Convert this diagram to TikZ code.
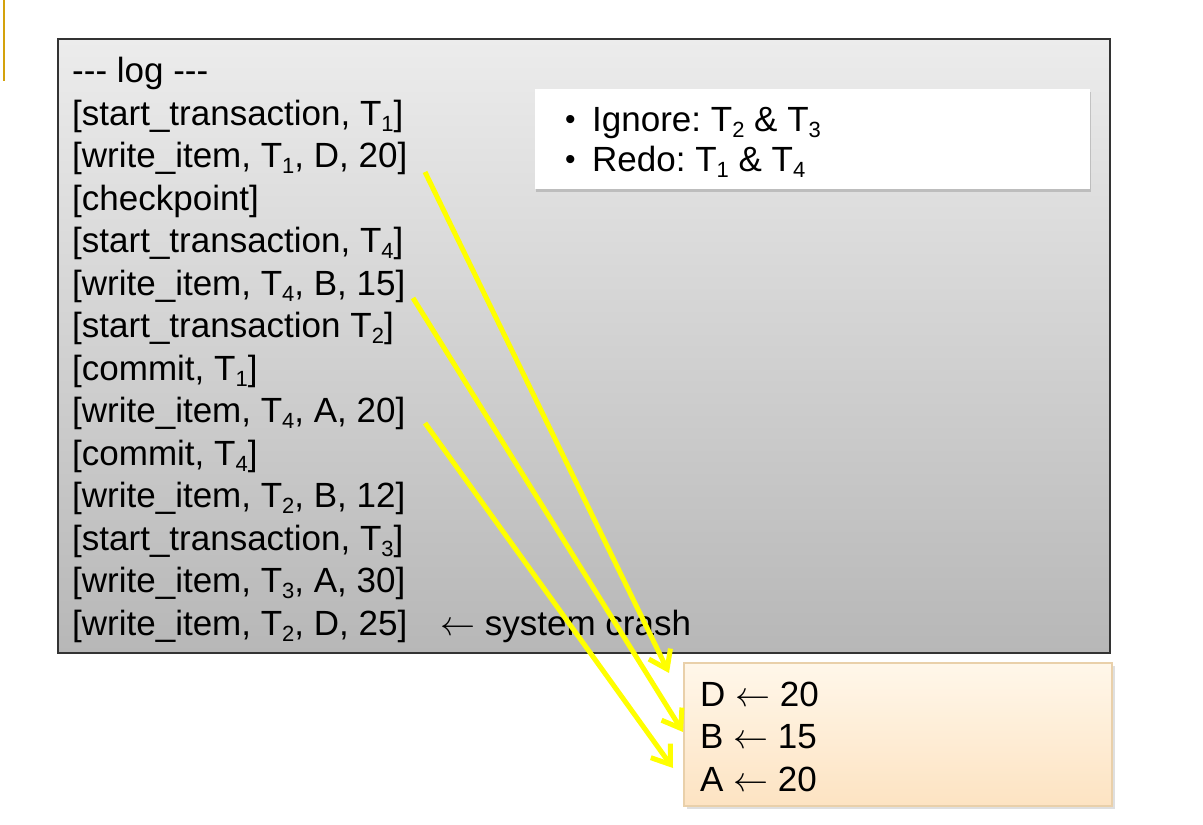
\RequirePackage{fix-cm}
\documentclass[tikz,border=0pt]{standalone}
\usepackage{fontspec}
\setmainfont{Liberation Sans}
\usetikzlibrary{arrows.meta,shadows}
\definecolor{goldbar}{HTML}{D4A20C}
\definecolor{boxtop}{HTML}{ECECEC}
\definecolor{boxbot}{HTML}{B7B7B7}
\definecolor{restop}{HTML}{FFF7EA}
\definecolor{resbot}{HTML}{FDE3C2}
\definecolor{resline}{HTML}{E9D0AA}
\definecolor{arrowyellow}{HTML}{FFFF00}
\newcommand\tsub[1]{\raisebox{-6pt}{\fontsize{22}{22}\selectfont #1}}
\newcommand\smallbullet{\makebox[27pt][l]{\raisebox{1.5pt}{\fontsize{30}{30}\selectfont\textbullet}}}
\tikzset{
  logline/.style={anchor=base west, inner sep=0pt, font=\fontsize{35}{42}\selectfont\frenchspacing},
  yarrow/.style={draw=arrowyellow, line width=5pt, -{Straight Barb[length=17pt,width=24pt,line width=5pt]}},
  logbox/.style={draw=black!80, line width=1.2pt, top color=boxtop, bottom color=boxbot},
  notebox/.style={fill=white, draw=none, drop shadow={shadow xshift=1pt, shadow yshift=-3pt, opacity=0.35}},
  resbox/.style={draw=resline, line width=1.2pt, top color=restop, bottom color=resbot, drop shadow={shadow xshift=3pt, shadow yshift=-3pt, opacity=0.25}}
}
\begin{document}
\begin{tikzpicture}[x=1pt,y=-1pt]
\useasboundingbox (0,0) rectangle (1203,825);
\fill[white] (0,0) rectangle (1203,825);
% gold bar
\fill[goldbar] (2.5,0) rectangle (5,81);
% main log box
\path[logbox] (58,39) rectangle (1110,653);
% note box
\path[notebox] (535,89) rectangle (1090,189);
\node[logline] (ig) at (565,131) {\smallbullet Ignore: T\tsub{2} \& T\tsub{3}};
\node[logline] (re) at (565,171) {\smallbullet Redo: T\tsub{1} \& T\tsub{4}};
% log lines
\node[logline] (l0) at (72,82.5) {-{}-{}- log -{}-{}-};
\node[logline] (l1) at (72,125) {[start\_transaction, T\tsub{1}]};
\node[logline] (l2) at (72,167.5) {[write\_item, T\tsub{1}, D, 20]};
\node[logline] (l3) at (72,210) {[checkpoint]};
\node[logline] (l4) at (72,252.5) {[start\_transaction, T\tsub{4}]};
\node[logline] (l5) at (72,295) {[write\_item, T\tsub{4}, B, 15]};
\node[logline] (l6) at (72,337.5) {[start\_transaction T\tsub{2}]};
\node[logline] (l7) at (72,380) {[commit, T\tsub{1}]};
\node[logline] (l8) at (72,422.5) {[write\_item, T\tsub{4}, A, 20]};
\node[logline] (l9) at (72,465) {[commit, T\tsub{4}]};
\node[logline] (l10) at (72,507.5) {[write\_item, T\tsub{2}, B, 12]};
\node[logline] (l11) at (72,550) {[start\_transaction, T\tsub{3}]};
\node[logline] (l12) at (72,592.5) {[write\_item, T\tsub{3}, A, 30]};
\node[logline] (l13) at (72,635) {[write\_item, T\tsub{2}, D, 25]};
\node[logline] (crash) at (440,635) {$\leftarrow$ system crash};
% result box
\path[resbox] (684,663) rectangle (1112,806);
\node[logline] (rd) at (700,706) {D $\leftarrow$ 20};
\node[logline] (rb) at (700,748) {B $\leftarrow$ 15};
\node[logline] (ra) at (700,791) {A $\leftarrow$ 20};
% arrow endpoints
\coordinate (s1) at (425,172);
\coordinate (s2) at (413,298);
\coordinate (s3) at (425,423);
\coordinate (e1) at (669,673);
\coordinate (e2) at (683,732);
\coordinate (e3) at (673,768);
\draw[yarrow] (s1) -- (e1);
\draw[yarrow] (s2) -- (e2);
\draw[yarrow] (s3) -- (e3);
\end{tikzpicture}
\end{document}
